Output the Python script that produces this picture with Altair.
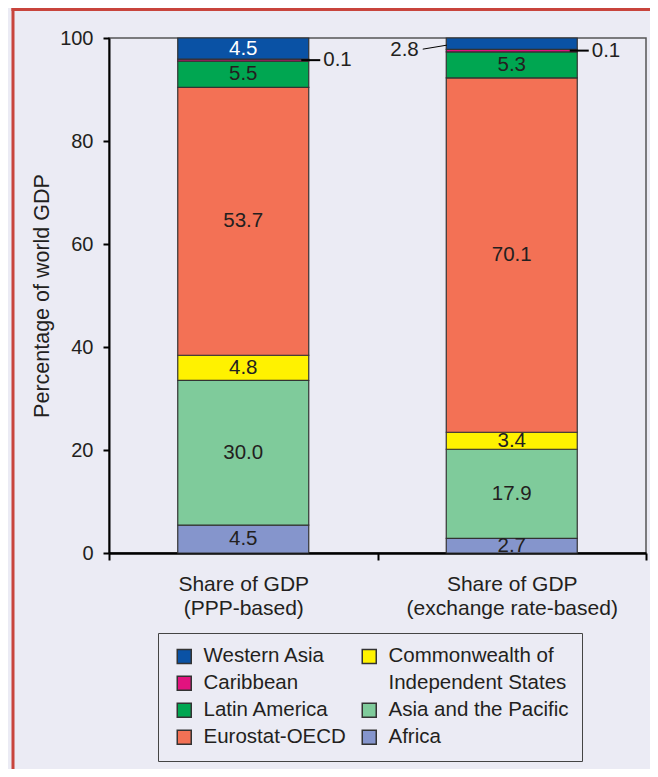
import altair as alt
import pandas as pd

# ---- data ----
categories = ["Share of GDP\n(PPP-based)", "Share of GDP\n(exchange rate-based)"]
series = ["Africa", "Asia and the Pacific", "Commonwealth of Independent States",
          "Eurostat-OECD", "Latin America", "Caribbean", "Western Asia"]  # bottom -> top
ppp_share = [5.4, 28.1, 4.9, 52.0, 5.1, 0.4, 4.1]
xr_share = [2.85, 17.3, 3.3, 68.8, 5.05, 0.5, 2.2]
ppp_labels = ["4.5", "30.0", "4.8", "53.7", "5.5", "0.1", "4.5"]
xr_labels = ["2.7", "17.9", "3.4", "70.1", "5.3", "0.1", "2.8"]

series_colors = {
    "Western Asia": "#0A52A5",
    "Caribbean": "#E2127F",
    "Latin America": "#00A651",
    "Eurostat-OECD": "#F37155",
    "Commonwealth of Independent States": "#FFF200",
    "Asia and the Pacific": "#7FCB9B",
    "Africa": "#8595CC",
}
# legend reading order (two columns, filled column by column)
legend_order = ["Western Asia", "Caribbean", "Latin America", "Eurostat-OECD",
                "Commonwealth of Independent States", "Independent States",
                "Asia and the Pacific", "Africa"]

FONT = "Liberation Sans"
TXT = "#231F20"
BG = "#EBEBF4"

rows = []
for cat, shares, labels in zip(categories, [ppp_share, xr_share], [ppp_labels, xr_labels]):
    base = 0.0
    for s, v, lab in zip(series, shares, labels):
        if s == "Caribbean":
            pos = "right"
        elif s == "Western Asia" and cat == categories[1]:
            pos = "left"
        else:
            pos = "inside"
        tcolor = "white" if (s == "Western Asia" and cat == categories[0]) else TXT
        rows.append(dict(cat=cat, series=s, y0=base, y1=base + v, mid=base + v / 2,
                         label=lab, pos=pos, tcolor=tcolor))
        base += v
df = pd.DataFrame(rows)

fill_range = [series_colors.get(k, "transparent") for k in legend_order]
stroke_range = ["#333333" if k in series_colors else "transparent" for k in legend_order]

legend = alt.Legend(
    title=None, orient="none", legendX=49, legendY=595, columns=2,
    symbolType="square", symbolSize=196, symbolStrokeWidth=1.5, symbolOffset=3,
    labelFont=FONT, labelFontSize=20.5, labelColor=TXT, labelOffset=9, labelLimit=400,
    labelExpr="datum.label == 'Commonwealth of Independent States' ? 'Commonwealth of' : datum.label",
    rowPadding=6, columnPadding=10, padding=13,
    strokeColor="#444444",
)

x_axis = alt.Axis(title=None, labelAngle=0,
                  labelExpr="datum.value ? split(datum.value, '\\n') : ''",
                  labelFont=FONT, labelFontSize=21, labelLineHeight=24, labelLimit=400,
                  labelColor=TXT, labelPadding=13, tickBand="extent",
                  tickSize=7, tickWidth=2, tickColor="black",
                  domainColor="black", domainWidth=2.5)
y_scale = alt.Scale(domain=[0, 100], nice=False)
y_axis = alt.Axis(title="Percentage of world GDP", values=[0, 20, 40, 60, 80, 100],
                  grid=False, labelFont=FONT, labelFontSize=20, labelColor=TXT,
                  labelPadding=10, tickSize=6, tickWidth=2, tickColor="black",
                  domainColor="black", domainWidth=2, titleFont=FONT,
                  titleFontSize=21.5, titleFontWeight="normal", titleColor=TXT,
                  titlePadding=6)

base = alt.Chart(df)

bars = base.mark_bar(size=131, strokeWidth=1.2).encode(
    x=alt.X("cat:N", sort=categories,
            scale=alt.Scale(paddingInner=0, paddingOuter=0),
            axis=x_axis),
    y=alt.Y("y0:Q", scale=y_scale, axis=y_axis),
    y2="y1:Q",
    fill=alt.Fill("series:N", scale=alt.Scale(domain=legend_order, range=fill_range), legend=legend),
    stroke=alt.Stroke("series:N", scale=alt.Scale(domain=legend_order, range=stroke_range), legend=legend),
)

inside = base.transform_filter(alt.datum.pos == "inside").mark_text(
    font=FONT, fontSize=20.5, baseline="middle").encode(
    x=alt.X("cat:N", sort=categories, bandPosition=0.5),
    y=alt.Y("mid:Q"),
    text="label:N",
    color=alt.Color("tcolor:N", scale=None),
)

right_lead = base.transform_filter(alt.datum.pos == "right").mark_rule(
    color="black", strokeWidth=2, xOffset=58, x2Offset=77).encode(
    x=alt.X("cat:N", sort=categories, bandPosition=0.5),
    x2=alt.X2("cat", bandPosition=0.5),
    y="mid:Q",
)
right_txt = base.transform_filter(alt.datum.pos == "right").mark_text(
    font=FONT, fontSize=20.5, align="left", baseline="middle", dx=80, color=TXT).encode(
    x=alt.X("cat:N", sort=categories, bandPosition=0.5),
    y="mid:Q",
    text="label:N",
)

left_lead = base.transform_filter(alt.datum.pos == "left").mark_rule(
    color="black", strokeWidth=1, xOffset=-89, x2Offset=-65, yOffset=5.5, y2Offset=1.5).encode(
    x=alt.X("cat:N", sort=categories, bandPosition=0.5),
    x2=alt.X2("cat", bandPosition=0.5),
    y="mid:Q",
    y2="mid:Q",
)
left_txt = base.transform_filter(alt.datum.pos == "left").mark_text(
    font=FONT, fontSize=20.5, align="right", baseline="middle", dx=-93, dy=6, color=TXT).encode(
    x=alt.X("cat:N", sort=categories, bandPosition=0.5),
    y="mid:Q",
    text="label:N",
)

frame_df = pd.DataFrame({"k": [0]})
red_left = alt.Chart(frame_df).mark_rule(color="#C8443C", strokeWidth=3).encode(
    x=alt.value(-96), y=alt.value(-30), y2=alt.value(731))
red_top = alt.Chart(frame_df).mark_rule(color="#C8443C", strokeWidth=3).encode(
    x=alt.value(-97.5), x2=alt.value(541), y=alt.value(-28.5))

chart = alt.layer(
    bars, inside, right_lead, right_txt, left_lead, left_txt, red_left, red_top
).properties(
    width=537, height=515,
    autosize=alt.AutoSizeParams(type="none"),
    padding={"left": 101, "top": 30, "right": 4, "bottom": 216},
).configure(
    background=BG,
).configure_view(
    stroke="#555555", strokeWidth=1.5,
)

chart.save("out.html", embed_options={"renderer": "svg", "actions": False})
